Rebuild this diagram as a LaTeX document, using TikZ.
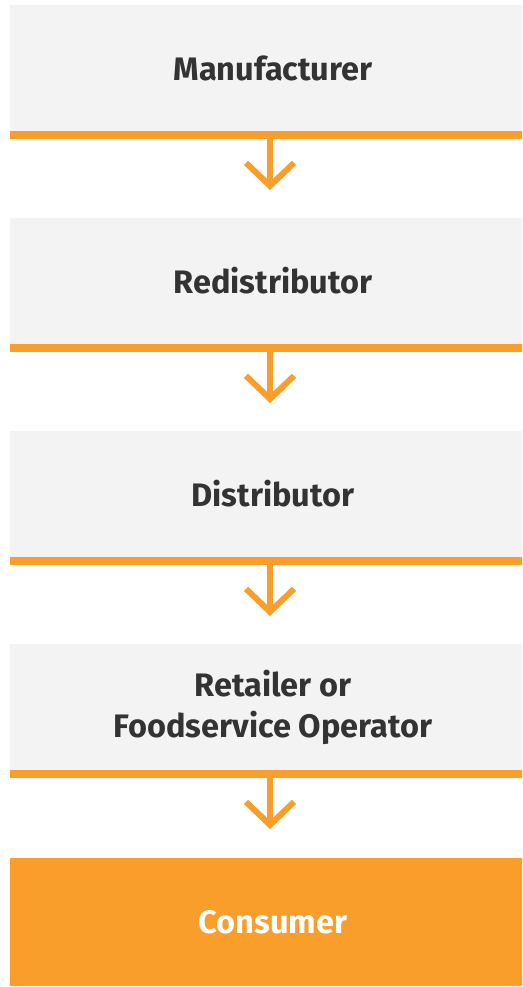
\documentclass[tikz,border=0pt]{standalone}
\usepackage{fontspec}
\setmainfont{Fira Sans}
\usetikzlibrary{arrows.meta}
\definecolor{stepgray}{HTML}{F3F3F3}
\definecolor{steporange}{HTML}{F99E2A}
\definecolor{steptext}{HTML}{333333}

\tikzset{
  stage/.style = {rectangle, fill = stepgray, minimum width = 526pt, minimum height = 126pt,
                  inner sep = 0pt, align = center, text = steptext,
                  font = \fontsize{32.5}{41}\selectfont\bfseries},
  laststage/.style = {stage, fill = steporange, text = white, minimum height = 128pt},
  bar/.style = {steporange, line width = 8pt},
  flow/.style = {steporange, line width = 6pt, -{Straight Barb[sharp, length = 23pt, width = 48pt]}}
}

\begin{document}
\begin{tikzpicture}[x = 1pt, y = -1pt]
  \useasboundingbox (0,0) rectangle (522,987);
  \clip (0,0) rectangle (522,987);
  % the chain of stages
  \node (manufacturer)  at (273,68)  [stage] {Manufacturer};
  \node (redistributor) at (273,281) [stage] {Redistributor};
  \node (distributor)   at (273,494) [stage] {Distributor};
  \node (retailer)      at (273,707) [stage] {Retailer or\\Foodservice Operator};
  \node (consumer)      at (273,922) [laststage] {Consumer};
  % orange bars under the grey boxes
  \foreach \s in {manufacturer, redistributor, distributor, retailer}
    \draw [bar] ([yshift = -4pt]\s.south west) -- ([yshift = -4pt]\s.south east);
  % arrows
  \coordinate (m0) at (270,139); \coordinate (m1) at (270,190);
  \coordinate (r0) at (270,352); \coordinate (r1) at (270,403);
  \coordinate (d0) at (270,565); \coordinate (d1) at (270,616);
  \coordinate (f0) at (270,778); \coordinate (f1) at (270,829);
  \draw [flow] (m0) -- (m1);
  \draw [flow] (r0) -- (r1);
  \draw [flow] (d0) -- (d1);
  \draw [flow] (f0) -- (f1);
\end{tikzpicture}
\end{document}
